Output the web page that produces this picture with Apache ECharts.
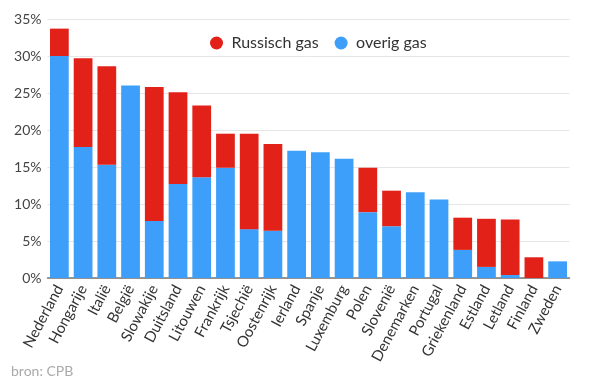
<!DOCTYPE html>
<html><head><meta charset="utf-8">
<script src="https://cdn.jsdelivr.net/npm/echarts@6/dist/echarts.min.js"></script>
<style>html,body{margin:0;padding:0;background:#fff}#c{width:600px;height:385px}</style>
</head><body><div id="c"></div>
<script>
const categories = ['Nederland','Hongarije','Italië','België','Slowakije','Duitsland','Litouwen','Frankrijk','Tsjechië','Oostenrijk','Ierland','Spanje','Luxemburg','Polen','Slovenië','Denemarken','Portugal','Griekenland','Estland','Letland','Finland','Zweden'];
const overigGas = [30.0,17.7,15.3,26.0,7.7,12.7,13.6,14.9,6.6,6.4,17.2,17.0,16.1,8.9,7.0,11.6,10.6,3.8,1.5,0.4,0,2.25];
const russischGas = [3.7,12.0,13.3,0,18.1,12.4,9.7,4.6,12.9,11.7,0,0,0,6.0,4.8,0,0,4.35,6.5,7.5,2.8,0];
const yTicks = [0,5,10,15,20,25,30,35];

const font = 'Lato, "Open Sans", sans-serif';
const chart = echarts.init(document.getElementById('c'), null, {renderer:'canvas'});
chart.setOption({
  animation:false,
  textStyle:{fontFamily:font},
  grid:{left:47.5,right:30.5,top:19,bottom:107,containLabel:false},
  legend:{
    data:['Russisch gas','overig gas'],
    left:205, top:30, icon:'circle', itemWidth:20, itemHeight:13, itemGap:16,
    textStyle:{fontFamily:font,fontSize:16,color:'#333'}
  },
  xAxis:{
    type:'category', data:categories,
    axisTick:{show:false},
    axisLine:{lineStyle:{color:'#777',width:1.5}},
    axisLabel:{rotate:62,fontSize:15,color:'#333',margin:8,interval:0,fontFamily:font}
  },
  yAxis:{
    type:'value', min:yTicks[0], max:yTicks[yTicks.length-1], interval:5,
    axisLabel:{formatter:'{value}%',fontSize:14,color:'#444',margin:6,fontFamily:font},
    splitLine:{lineStyle:{color:'#e6e6e6'}},
    axisLine:{show:false}, axisTick:{show:false}
  },
  series:[
    {name:'overig gas',type:'bar',stack:'g',data:overigGas,itemStyle:{color:'#3d9ff9'},barCategoryGap:'21%'},
    {name:'Russisch gas',type:'bar',stack:'g',data:russischGas,itemStyle:{color:'#e22118'},barCategoryGap:'21%'}
  ],
  graphic:[{type:'text',left:11,top:364,style:{text:'bron: CPB',fill:'#aaa',fontSize:14,fontFamily:font}}]
});
</script></body></html>
